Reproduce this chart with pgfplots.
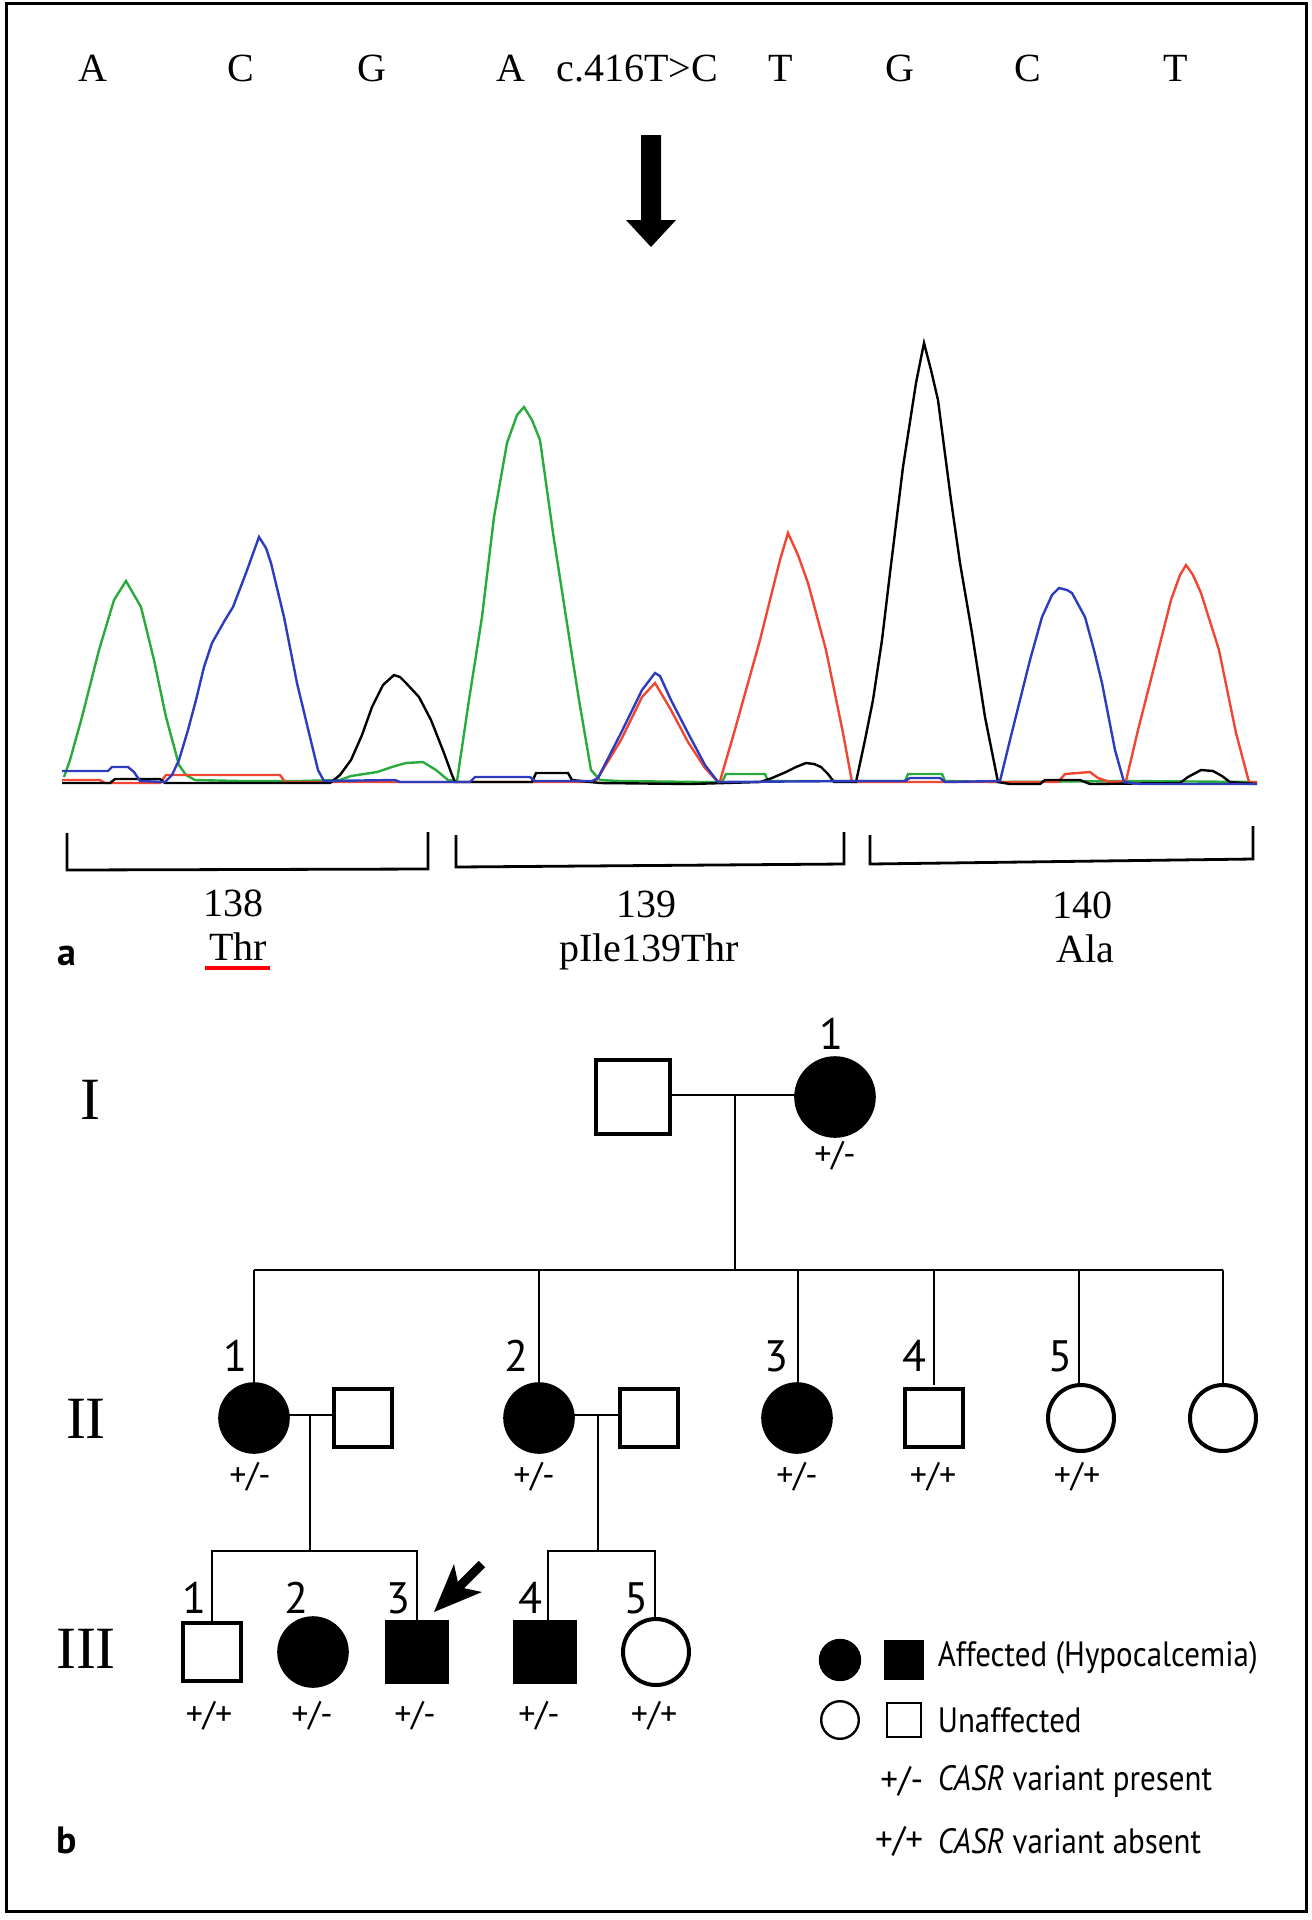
\documentclass[border=0pt]{standalone}
\usepackage{pgfplots}
\pgfplotsset{compat=1.18}
\usepackage{fontspec}
\setmainfont{Liberation Serif}
\newfontfamily\sfnt{PT Sans}
\newfontfamily\sfntc[FakeStretch=0.88]{PT Sans}
\definecolor{cgreen}{RGB}{40,170,60}
\definecolor{cblue}{RGB}{45,60,190}
\definecolor{cred}{RGB}{240,70,50}
\begin{document}
\begin{tikzpicture}
\begin{axis}[
  scale only axis, width=328pt, height=480pt,
  xmin=0, xmax=1312, ymin=0, ymax=1920, y dir=reverse,
  hide axis, clip=false,
]
\path (axis cs:0,0) rectangle (axis cs:1312,1920);
% frame
\addplot[black, line width=0.75pt] coordinates {(7,3) (1306,3) (1306,1911) (7,1911)} -- cycle;

% ---------- panel a: bases ----------
\foreach \x/\t in {93/A,241/C,372/G,511/A,637/{c.416T>C},781/T,900/G,1028/C,1176/T}{
  \edef\tmp{\noexpand\node[font=\noexpand\fontsize{10}{12}\noexpand\selectfont, anchor=base] at (axis cs:\x,81) {\t};}\tmp
}
% arrow
\addplot[fill=black, draw=none] coordinates {(641,135) (661,135) (661,220) (676,220) (651,247) (626,220) (641,220)} -- cycle;

% ---------- chromatogram traces ----------
\addplot[cgreen, line width=0.6pt] coordinates {
(64,777) (70,760) (82,717) (99,650) (114,600) (126,581) (141,607) (154,660) (166,717) (179,765) (186,775) (195,780) (240,781) (300,781) (340,780) (351,776) (377,772) (395,766) (406,763) (423,762) (436,770) (448,780) (457,781) (469,700) (482,617) (494,517) (507,443) (517,415) (524,407) (532,420) (540,440) (553,533) (566,617) (579,700) (591,770) (600,780) (620,781) (700,782) (722,782) (726,774) (765,774) (768,781) (905,781) (908,774) (942,774) (945,781) (1000,782) (1130,781) (1257,782)};
\addplot[cred, line width=0.6pt] coordinates {
(62,780) (100,780) (105,783) (160,783) (166,775) (280,775) (285,782) (590,782) (596,781) (621,740) (642,697) (655,683) (671,710) (688,742) (705,768) (718,782) (720,781) (734,733) (748,683) (760,640) (770,600) (780,560) (788,533) (798,555) (808,583) (826,650) (843,733) (852,782) (1058,782) (1065,774) (1090,772) (1098,778) (1110,782) (1126,781) (1138,730) (1150,683) (1171,600) (1180,575) (1186,565) (1193,575) (1201,593) (1219,650) (1236,733) (1249,782) (1257,782)};
\addplot[black, line width=0.6pt] coordinates {
(62,783) (110,783) (115,779) (160,779) (165,783) (330,783) (340,775) (351,760) (362,735) (372,707) (383,685) (394,675) (400,677) (406,683) (419,697) (431,720) (444,753) (452,775) (455,782) (532,782) (536,773) (568,773) (572,780) (600,783) (690,784) (760,782) (772,778) (786,772) (796,767) (806,763) (814,764) (821,767) (828,774) (834,782) (856,782) (865,740) (873,700) (882,640) (890,573) (903,467) (916,383) (924,343) (931,370) (938,400) (951,500) (960,563) (972,633) (985,717) (998,782) (1010,784) (1040,784) (1045,780) (1080,780) (1090,784) (1180,783) (1188,777) (1201,770) (1213,771) (1222,776) (1230,782) (1257,784)};
\addplot[cblue, line width=0.6pt] coordinates {
(62,771) (108,771) (112,767) (128,767) (134,772) (140,781) (165,782) (172,775) (179,760) (188,730) (196,700) (204,667) (212,643) (225,620) (233,607) (246,573) (259,537) (266,548) (271,563) (284,617) (297,683) (309,733) (318,770) (324,781) (395,780) (400,782) (470,782) (475,777) (530,777) (535,781) (592,781) (598,778) (621,733) (642,690) (655,673) (660,676) (671,700) (688,733) (705,765) (718,782) (860,781) (905,781) (910,778) (940,778) (945,782) (1000,781) (1010,740) (1020,700) (1030,660) (1042,617) (1052,595) (1059,588) (1067,590) (1072,593) (1085,617) (1094,650) (1102,683) (1115,750) (1124,782) (1140,784) (1257,784)};

% brackets
\addplot[black, line width=0.7pt] coordinates {(67,833) (67,870) (428,869) (428,832)};
\addplot[black, line width=0.7pt] coordinates {(456,835) (456,867) (844,864) (844,832)};
\addplot[black, line width=0.7pt] coordinates {(870,835) (870,864) (1253,859) (1253,826)};

\node[font=\fontsize{10}{12}\selectfont, anchor=base] at (axis cs:233,916) {138};
\node[font=\fontsize{10}{12}\selectfont, anchor=base] at (axis cs:238,960) {Thr};
\node[font=\fontsize{10}{12}\selectfont, anchor=base] at (axis cs:646,917) {139};
\node[font=\fontsize{10}{12}\selectfont, anchor=base] at (axis cs:649,961) {pIle139Thr};
\node[font=\fontsize{10}{12}\selectfont, anchor=base] at (axis cs:1082,918) {140};
\node[font=\fontsize{10}{12}\selectfont, anchor=base] at (axis cs:1085,962) {Ala};
\addplot[color=red, line width=0.8pt] coordinates {(205,968) (270,968)};
\node[font=\sfnt\bfseries\fontsize{9.5}{11}\selectfont, anchor=base] at (axis cs:67,965) {a};

% ---------- panel b: pedigree ----------
\node[font=\fontsize{15}{18}\selectfont] at (axis cs:90,1100) {I};
\node[font=\fontsize{15}{18}\selectfont] at (axis cs:86,1419) {II};
\node[font=\fontsize{15}{18}\selectfont] at (axis cs:86,1649) {III};

% lines
\addplot[black, line width=0.55pt] coordinates {(671,1095) (795,1095)};
\addplot[black, line width=0.55pt] coordinates {(735,1095) (735,1270)};
\addplot[black, line width=0.6pt] coordinates {(254,1270) (1223,1270)};
\foreach \x in {254,539,798,934,1079,1223}{
  \edef\tmp{\noexpand\addplot[black, line width=0.5pt] coordinates {(\x,1270) (\x,1385)};}\tmp
}
\addplot[black, line width=0.55pt] coordinates {(289,1415) (333,1415)};
\addplot[black, line width=0.55pt] coordinates {(574,1415) (619,1415)};
\addplot[black, line width=0.5pt] coordinates {(310,1415) (310,1551)};
\addplot[black, line width=0.5pt] coordinates {(598,1415) (598,1551)};
\addplot[black, line width=0.55pt] coordinates {(212,1621) (212,1551) (417,1551) (417,1621)};
\addplot[black, line width=0.55pt] coordinates {(548,1621) (548,1551) (655,1551) (655,1617)};

% generation I symbols
\addplot[only marks, mark=square, mark size=9.25pt, mark options={line width=1pt, draw=black, fill=white}] coordinates {(633,1097)};
\addplot[only marks, mark=*, mark size=10pt, mark options={draw=black, fill=black}] coordinates {(835,1097)};
% filled circles (affected females)
\addplot[only marks, mark=*, mark size=8.75pt, mark options={draw=black, fill=black}] coordinates {(254,1418) (539,1418) (797,1418) (313,1652)};
% open squares
\addplot[only marks, mark=square, mark size=7.25pt, mark options={line width=1pt, draw=black, fill=white}] coordinates {(363,1418) (649,1418) (934,1418) (212,1652)};
% open circles
\addplot[only marks, mark=o, mark size=8.25pt, mark options={line width=1pt, draw=black, fill=white}] coordinates {(1081,1418) (1223,1418) (656,1652)};
% filled squares
\addplot[only marks, mark=square*, mark size=7.75pt, mark options={draw=black, fill=black}] coordinates {(417,1652) (545,1652)};

% proband arrow
\addplot[fill=black, draw=none] coordinates {(434,1612) (454,1564) (457.8,1581.8) (478.8,1560.8) (485.2,1567.2) (464.2,1588.2) (482,1592)} -- cycle;

% individual numbers
\foreach \x/\y/\t in {831/1034/1, 235/1356/1, 516/1356/2, 776/1356/3, 914/1356/4, 1060/1356/5, 194/1598/1, 296/1598/2, 398/1598/3, 530/1598/4, 636/1598/5}{
  \edef\tmp{\noexpand\node[font=\noexpand\sfnt\noexpand\fontsize{11}{13}\noexpand\selectfont] at (axis cs:\x,\y) {\t};}\tmp
}
% genotypes
\foreach \x/\y/\t in {835/1156/{+/-}, 250/1477/{+/-}, 534/1477/{+/-}, 797/1477/{+/-}, 933/1477/{+/+}, 1077/1477/{+/+}, 209/1716/{+/+}, 312/1716/{+/-}, 415/1716/{+/-}, 539/1716/{+/-}, 654/1716/{+/+}}{
  \edef\tmp{\noexpand\node[font=\noexpand\sfnt\noexpand\fontsize{8.5}{10}\noexpand\selectfont] at (axis cs:\x,\y) {\t};}\tmp
}

% legend
\addplot[only marks, mark=*, mark size=5.1pt, mark options={draw=black, fill=black}] coordinates {(840,1660)};
\addplot[only marks, mark=square*, mark size=4.75pt, mark options={draw=black, fill=black}] coordinates {(904,1660)};
\addplot[only marks, mark=o, mark size=4.7pt, mark options={line width=0.6pt, draw=black}] coordinates {(840,1720)};
\addplot[only marks, mark=square, mark size=4.3pt, mark options={line width=0.6pt, draw=black}] coordinates {(904,1720)};
\node[font=\sfntc\fontsize{8.8}{10}\selectfont, anchor=west, inner sep=0pt] at (axis cs:937,1658) {Affected (Hypocalcemia)};
\node[font=\sfntc\fontsize{8.8}{10}\selectfont, anchor=west, inner sep=0pt] at (axis cs:937,1720) {Unaffected};
\node[font=\sfnt\fontsize{8.8}{10}\selectfont, anchor=east, inner sep=0pt] at (axis cs:924,1781) {+/-};
\node[font=\sfntc\fontsize{8.8}{10}\selectfont, anchor=west, inner sep=0pt] at (axis cs:937,1781) {\textit{CASR} variant present};
\node[font=\sfnt\fontsize{8.8}{10}\selectfont, anchor=east, inner sep=0pt] at (axis cs:924,1841) {+/+};
\node[font=\sfntc\fontsize{8.8}{10}\selectfont, anchor=west, inner sep=0pt] at (axis cs:937,1841) {\textit{CASR} variant absent};

\node[font=\sfnt\bfseries\fontsize{9.5}{11}\selectfont] at (axis cs:67,1840) {b};
\end{axis}
\end{tikzpicture}
\end{document}
